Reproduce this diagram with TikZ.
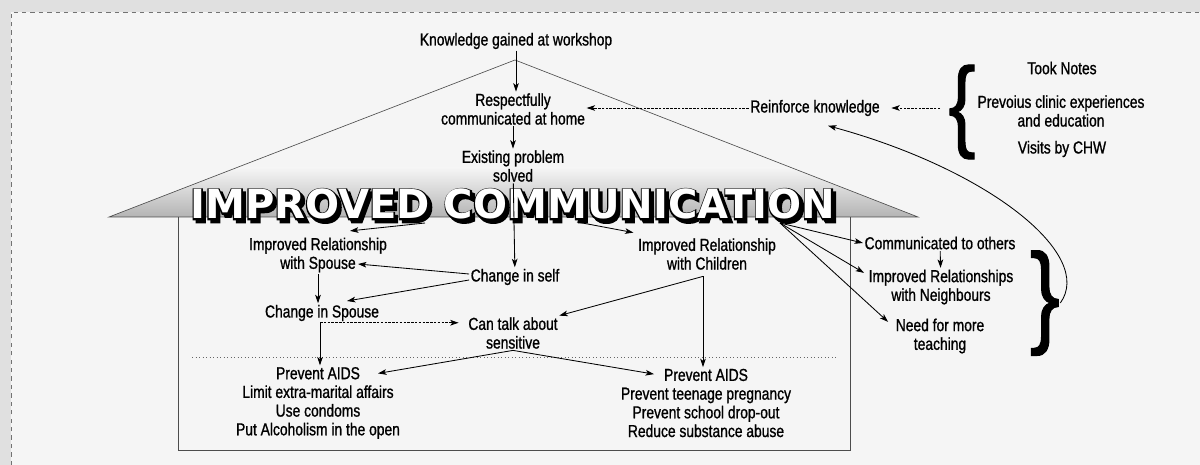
\documentclass[tikz,border=0pt]{standalone}
\usepackage{fontspec}
\setmainfont{Liberation Sans}[FakeStretch=0.8, FakeBold=1]
\newfontfamily\bannerfont{DejaVu Sans Bold}
\newfontfamily\bannerink{DejaVu Sans Bold}[FakeBold=7]
\usetikzlibrary{arrows.meta,calc}

\begin{document}
\begin{tikzpicture}[x=0.025cm,y=-0.025cm,
	every node/.style={font=\fontsize{12.3pt}{13.3pt}\selectfont, align=center, inner sep=1pt}]
	\tikzstyle{edge} = [draw=black, line width=0.6pt, -{Stealth[length=6pt,width=4pt,inset=1.5pt]}]
	\tikzstyle{dashedge} = [edge, dash pattern=on 1.8pt off 0.9pt]
	\tikzstyle{wall} = [draw=black!70, line width=0.45pt]
	\tikzstyle{ink} = [font=\bannerink\fontsize{28.5pt}{30pt}\selectfont, anchor=base west, inner sep=0pt, text=black]
	\tikzstyle{face} = [font=\bannerfont\fontsize{28.5pt}{30pt}\selectfont, anchor=base west, inner sep=0pt, text=white]
	\tikzstyle{brace} = [inner sep=0pt, font=\fontsize{72pt}{72pt}\selectfont]
	\useasboundingbox (0,0) rectangle (1200,465);
	\fill[black!12] (0,0) rectangle (1200,465);
	\fill[black!4] (11,12) rectangle (1200,465);
	\draw[black!55, dashed, line width=0.4pt] (11,465) -- (11,12) -- (1200,12);
	% house: roof, eave and walls
	\begin{scope}
		\clip (109,217) -- (515,60) -- (918,217) -- cycle;
		\shade[top color=black!4, bottom color=black!30] (100,168) rectangle (930,218);
	\end{scope}
	\draw[wall] (109,217) -- (515,60) -- (918,217) -- cycle;
	\draw[wall] (178,217) -- (178,450) -- (850,450) -- (850,217);
	\draw[black!60, dotted, line width=0.5pt] (192,357) -- (836,357);
	% banner
	\coordinate (bannerbase) at (190,219);
	\node[ink] at ($(bannerbase)+(3,3)$) {IMPROVED COMMUNICATION};
	\node[ink] at (bannerbase) {IMPROVED COMMUNICATION};
	\node[face] (banner) at (bannerbase) {IMPROVED COMMUNICATION};
	\coordinate (bl) at (425,223);
	\coordinate (bc) at (577,222);
	\coordinate (br) at (780,223);
	% top part
	\node[] (know)   at (516,41)  {Knowledge gained at workshop};
	\node[] (resp)   at (513,109) {Respectfully\\communicated at home};
	\node[] (solved) at (513,166) {Existing problem\\solved};
	\node[] (reinf)  at (815,108) {Reinforce knowledge};
	\node[] (notes)  at (1062,68) {Took Notes};
	\node[] (prev)   at (1061,111) {Prevoius clinic experiences\\and education};
	\node[] (chw)    at (1062,149) {Visits by CHW};
	\node[brace] (lbrace) at (962,112) {\{};
	% inside the house
	\node[] (irs)   at (318,255) {Improved Relationship\\with Spouse};
	\node[] (irc)   at (707,254) {Improved Relationship\\with Children};
	\node[] (self)  at (515,277) {Change in self};
	\node[] (cis)   at (322,313) {Change in Spouse};
	\node[] (talk)  at (513,333) {Can talk about\\sensitive};
	\node[] (aidsL) at (318,403) {Prevent AIDS\\Limit extra-marital affairs\\Use condoms\\Put Alcoholism in the open};
	\node[] (aidsR) at (706,403) {Prevent AIDS\\Prevent teenage pregnancy\\Prevent school drop-out\\Reduce substance abuse};
	% outside, right
	\node[] (comm)  at (940,243) {Communicated to others};
	\node[] (neigh) at (941,287) {Improved Relationships\\with Neighbours};
	\node[] (teach) at (940,336) {Need for more\\teaching};
	\node[brace, font=\fontsize{80pt}{80pt}\selectfont] (rbrace) at (1045,303) {\}};
	\draw[edge] (know.south) -- (know.south |- resp.north);
	\draw[edge] (resp) -- (solved);
	\draw[edge] (solved) -- (self);
	\draw[dashedge] (reinf.west) -- (reinf.west -| resp.east);
	\draw[dashedge] ($(lbrace.west |- reinf.east)+(-8,0)$) -- ($(reinf.east)+(10,0)$);
	\draw[edge] (rbrace.east) .. controls (1095,255) and (990,170) .. ($(reinf.south)+(13,8)$);
	\draw[edge] (bl) -- ($(irs.north)+(32,-5)$);
	\draw[edge] (bc) -- ($(irc.north west)+(-3,-4)$);
	\draw[edge] (br) -- (comm.west);
	\draw[edge] (br) -- ($(neigh.north west)+(-3,5)$);
	\draw[edge] (br) -- ($(teach.north west)+(-6,5)$);
	\draw[edge] (comm) -- (neigh);
	\draw[edge] (irs.south) -- (irs.south |- cis.north);
	\draw[edge] ($(self.west)+(0,-3)$) -- ($(irs)+(40,9)$);
	\draw[edge, {Stealth[length=6pt,width=4pt,inset=1.5pt]}-] ($(cis)+(25,-12)$) -- ($(self.west)+(0,3)$);
	\coordinate (elbow) at ($(cis.south)+(-2,0)$);
	\draw[dashedge] (elbow) -- ($(elbow -| talk.west)+(-8,0)$);
	\draw[edge] (elbow) -- (elbow |- aidsL.north);
	\draw[edge] (talk.south) -- ($(aidsL.north)+(60,8)$);
	\draw[edge] (talk.south) -- ($(aidsR.north)+(-52,7)$);
	\coordinate (cp) at ($(irc.south)+(-4,5)$);
	\draw[edge] (cp) -- (talk.north east);
	\draw[edge] (cp) -- (cp |- aidsR.north);
\end{tikzpicture}
\end{document}
